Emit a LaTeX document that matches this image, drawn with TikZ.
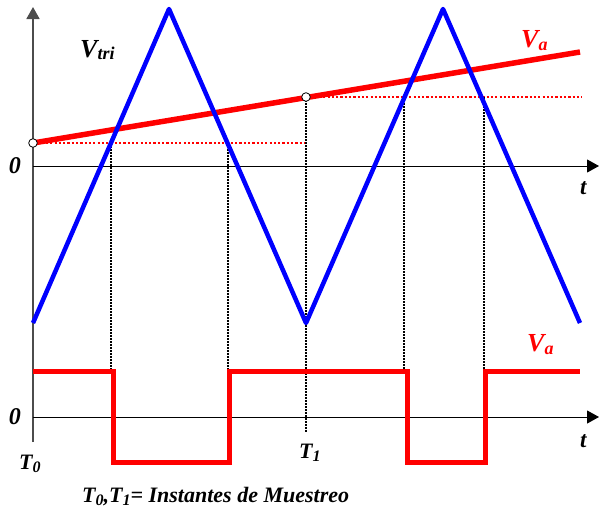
\documentclass[tikz,border=0pt]{standalone}
\usepackage{fontspec}
\setmainfont{Liberation Serif}
\usetikzlibrary{arrows.meta}
\newcommand\fsz[2]{{\fontsize{#1}{#1}\selectfont #2}}
\begin{document}
\begin{tikzpicture}[x=1pt,y=-1pt,
  lbl/.style={inner sep=0pt, font=\bfseries\itshape},
  axisline/.style={black, line width=1pt, -{Triangle[length=12pt,width=13pt]}},
  blkdot/.style={black, line width=2pt, dash pattern=on 1.5pt off 1.5pt},
  reddot/.style={red, line width=2.4pt, dash pattern=on 2.2pt off 2.1pt},
  tri/.style={blue, line width=4.5pt, line join=round},
  sig/.style={red, line width=5.5pt},
  sq/.style={red, line width=5pt, line join=miter},
  smp/.style={draw=black, fill=white, line width=0.8pt, circle, minimum size=8.6pt, inner sep=0pt}]
\useasboundingbox (0,0) rectangle (599,509);
% axes
\coordinate (O) at (33,442);
\coordinate (Ytip) at (33,7);
\coordinate (A1s) at (33,166);
\coordinate (A1e) at (599,166);
\coordinate (A2s) at (33,417);
\coordinate (A2e) at (599,417);
\draw[axisline, draw=black!70, line width=1.8pt] (O) -- (Ytip);
\draw[axisline] (A1s) -- (A1e);
\draw[axisline] (A2s) -- (A2e);
% sample points
\coordinate (S0) at (33,143);
\coordinate (S1) at (306,97);
\coordinate (S0e) at (306,143);
\coordinate (S1e) at (582,97);
\coordinate (Vend) at (580,52);
% red dotted levels
\draw[reddot] (S0) -- (S0e);
\draw[reddot] (S1) -- (S1e);
% black dotted verticals
\coordinate (D1a) at (111,143); \coordinate (D1b) at (111,371);
\coordinate (D2a) at (228,143); \coordinate (D2b) at (228,371);
\coordinate (D3a) at (404,97);  \coordinate (D3b) at (404,371);
\coordinate (D4a) at (484,97);  \coordinate (D4b) at (484,371);
\coordinate (D5b) at (306,432);
\draw[blkdot] (D1a) -- (D1b);
\draw[blkdot] (D2a) -- (D2b);
\draw[blkdot] (D3a) -- (D3b);
\draw[blkdot] (D4a) -- (D4b);
\draw[blkdot] (S1) -- (D5b);
% modulating signal
\draw[sig] (S0) -- (Vend);
% triangle carrier
\coordinate (P0) at (33,323);
\coordinate (P1) at (169,9);
\coordinate (P2) at (306,323);
\coordinate (P3) at (443,9);
\coordinate (P4) at (580,323);
\draw[tri] (P0) -- (P1) -- (P2) -- (P3) -- (P4);
% sample circles
\node[smp] (c0) at (S0) {};
\node[smp] (c1) at (S1) {};
% square wave
\coordinate (Q0) at (33,371);
\draw[sq] (Q0) -- (113,371) -- (113,462) -- (229.5,462) -- (229.5,371)
  -- (407,371) -- (407,462) -- (485,462) -- (485,371) -- (580,371);
% labels
\node[lbl, anchor=base west] (vtri) at (80,57) {\fsz{26}{V}\raisebox{-2pt}{\fsz{18}{tri}}};
\node[lbl, anchor=base west, text=red] (va1) at (521,47) {\fsz{26}{V}\raisebox{-3pt}{\fsz{18}{a}}};
\node[lbl, anchor=base west, text=red] (va2) at (527,351) {\fsz{26}{V}\raisebox{-3pt}{\fsz{18}{a}}};
\node[lbl] (z1) at (15,166) {\fsz{24}{0}};
\node[lbl] (z2) at (15,417) {\fsz{24}{0}};
\node[lbl, anchor=base west] (t1) at (580,194) {\fsz{23}{t}};
\node[lbl, anchor=base west] (t2) at (580,447) {\fsz{23}{t}};
\node[lbl, anchor=base west] (T0) at (19,469) {\fsz{22}{T}\raisebox{-3pt}{\fsz{16}{0}}};
\node[lbl, anchor=base west] (T1) at (299,458) {\fsz{22}{T}\raisebox{-3pt}{\fsz{16}{1}}};
\node[lbl, anchor=base west] (cap) at (82,502) {\fsz{22}{T\raisebox{-3pt}{\fsz{16}{0}},T\raisebox{-3pt}{\fsz{16}{1}}= Instantes de Muestreo}};
\end{tikzpicture}
\end{document}
